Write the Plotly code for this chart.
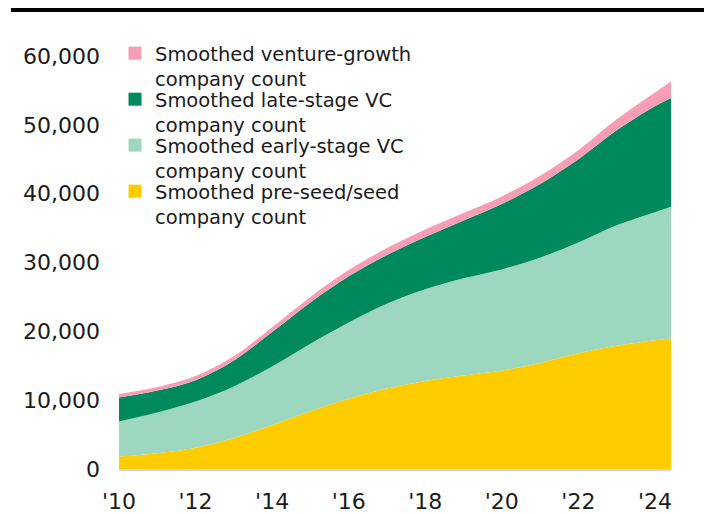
import plotly.graph_objects as go

years = [2010, 2011, 2012, 2013, 2014, 2015, 2016, 2017, 2018, 2019, 2020, 2021, 2022, 2023, 2024, 2024.42]
# cumulative tops
seed_top  = [1800, 2300, 3100, 4500, 6400, 8400, 10200, 11700, 12800, 13600, 14300, 15400, 16800, 17900, 18700, 18950]
early_top = [6900, 8200, 9800, 12000, 14900, 18200, 21300, 24000, 26100, 27700, 29000, 30700, 32900, 35400, 37300, 38100]
late_top  = [10400, 11400, 12900, 15750, 19900, 24200, 28000, 31100, 33700, 36100, 38500, 41400, 45000, 49200, 52700, 53900]
vg_top    = [10900, 11900, 13500, 16400, 20600, 25000, 28900, 32100, 34800, 37200, 39600, 42600, 46300, 50800, 54700, 56300]

seed = seed_top
early = [b - a for a, b in zip(seed_top, early_top)]
late = [b - a for a, b in zip(early_top, late_top)]
vg = [b - a for a, b in zip(late_top, vg_top)]

names = ["Smoothed pre-seed/seed<br>company count",
         "Smoothed early-stage VC<br>company count",
         "Smoothed late-stage VC<br>company count",
         "Smoothed venture-growth<br>company count"]
colors = ["#FFCC00", "#9DD7BF", "#00895C", "#F79DB5"]
series = [seed, early, late, vg]

tick_vals = [2010, 2012, 2014, 2016, 2018, 2020, 2022, 2024]
tick_text = ["'10", "'12", "'14", "'16", "'18", "'20", "'22", "'24"]
y_vals = [0, 10000, 20000, 30000, 40000, 50000, 60000]
y_text = ["0", "10,000", "20,000", "30,000", "40,000", "50,000", "60,000"]

FONT = "DejaVu Sans"
TXT = "#1a1a1a"

W, H = 704, 506
L, R, T, B = 111, 41, 48, 45
pw, ph = W - L - R, H - T - B

fig = go.Figure()
for s, n, c in zip(series, names, colors):
    fig.add_trace(go.Scatter(x=years, y=s, stackgroup="one", mode="none",
                             fillcolor=c, line=dict(shape="spline", smoothing=1.0),
                             name=n, showlegend=False, hoverinfo="x+y"))

# one legend per entry so the entries can sit at the reference spacing
legend_keys = ["legend", "legend2", "legend3", "legend4"]
legend_tops = [26, 72, 118, 164]  # px from top of figure
leg_left = 107
layout_legends = {}
for key, top, n, c in zip(legend_keys, legend_tops, reversed(names), reversed(colors)):
    fig.add_trace(go.Scatter(x=[None], y=[None], mode="markers",
                             marker=dict(symbol="square", size=13, color=c),
                             name=n, showlegend=True, legend=key))
    layout_legends[key] = dict(x=(leg_left - L) / pw, y=(H - B - top) / ph,
                               xanchor="left", yanchor="top",
                               font=dict(size=19.5, family=FONT, color=TXT),
                               bgcolor="rgba(0,0,0,0)", valign="top",
                               itemwidth=30, borderwidth=0)

fig.update_layout(
    width=W, height=H,
    margin=dict(l=L, r=R, t=T, b=B, autoexpand=False),
    paper_bgcolor="white", plot_bgcolor="white",
    font=dict(family=FONT, color=TXT),
    showlegend=True,
    xaxis=dict(range=[2010, 2024.42], tickvals=tick_vals, ticktext=tick_text,
               showgrid=False, zeroline=False, showline=True, linecolor="#d6d6d6",
               linewidth=2, ticks="", automargin=False,
               tickfont=dict(size=22, family=FONT, color=TXT), ticklabelstandoff=12),
    yaxis=dict(range=[0, 60000], tickvals=y_vals, ticktext=y_text,
               showgrid=False, zeroline=False, showline=False, ticks="", automargin=False,
               tickfont=dict(size=22, family=FONT, color=TXT), ticklabelstandoff=18),
    shapes=[dict(type="rect", xref="paper", yref="paper",
                 x0=(3 - L) / pw, x1=(W + 10 - L) / pw,
                 y0=(H - B - 4) / ph, y1=(H - B + 2) / ph,
                 fillcolor="black", line=dict(width=0))],
    **layout_legends,
)
fig.write_html("out.html")
